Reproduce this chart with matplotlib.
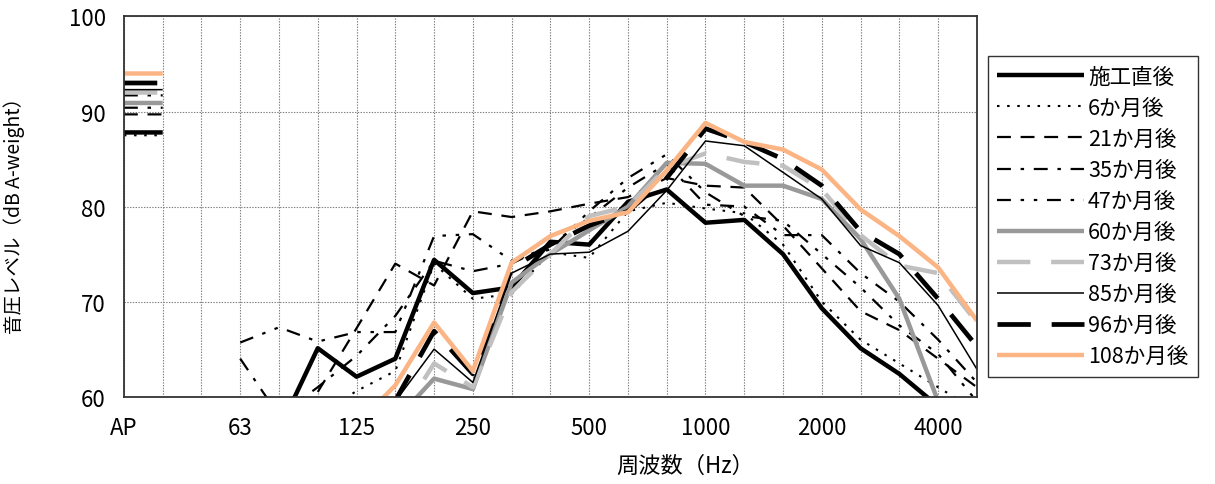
import numpy as np
import matplotlib
matplotlib.use("Agg")
import matplotlib.pyplot as plt

plt.rcParams['font.family'] = ['Noto Sans CJK JP', 'DejaVu Sans']
plt.rcParams['lines.scale_dashes'] = False

# categories (AP occupies two slots, then an empty slot)
categories = ['AP', '', '', '63', '80', '100', '125', '160', '200', '250', '315',
              '400', '500', '630', '800', '1000', '1250', '1600', '2000', '2500',
              '3150', '4000', '5000']
tick_labels = ['AP', '63', '125', '250', '500', '1000', '2000', '4000']

series_names = ['施工直後', '6か月後', '21か月後', '35か月後', '47か月後',
                '60か月後', '73か月後', '85か月後', '96か月後', '108か月後']

nan = np.nan
# AP values
ap_values = [87.8, 87.5, 89.7, 91.7, 90.4, 90.9, 92.0, 92.3, 93.0, 94.0]

# band values 63 Hz ... 5000 Hz
s00 = [55.0, 56.5, 65.1, 62.1, 64.0, 74.4, 70.9, 71.5, 76.3, 76.0, 80.5, 81.8, 78.3, 78.6, 75.0, 69.3, 65.1, 62.4, 59.0, 57.0]
s06 = [nan, 57.0, 58.0, 60.6, 62.7, 74.0, 70.3, 70.8, 75.2, 74.6, 79.5, 80.4, 79.8, 79.3, 76.0, 70.0, 66.0, 63.5, 61.0, 58.5]
s21 = [nan, nan, 60.5, 67.2, 74.0, 71.7, 79.5, 78.9, 79.5, 80.3, 81.0, 83.0, 82.2, 82.0, 78.0, 73.5, 69.0, 67.0, 64.0, 61.0]
s35 = [64.0, 58.0, 61.0, 64.3, 68.5, 74.3, 73.2, 74.0, 76.0, 78.8, 82.0, 84.5, 80.2, 80.0, 77.0, 77.0, 73.0, 70.0, 66.0, 61.5]
s47 = [65.7, 67.3, 65.8, 66.8, 66.8, 76.9, 77.1, 74.3, 75.5, 79.5, 83.0, 85.5, 81.5, 79.0, 78.5, 75.0, 71.5, 67.5, 64.5, 59.5]
s60 = [nan, nan, nan, 55.0, 57.5, 61.9, 60.8, 72.0, 75.0, 77.5, 80.0, 84.6, 84.5, 82.2, 82.2, 80.8, 76.6, 70.3, 59.5, 55.0]
s73 = [nan, nan, nan, nan, 57.0, 63.5, 61.0, 71.0, 75.0, 79.0, 80.0, 84.1, 85.6, 84.7, 84.3, 81.8, 77.0, 73.8, 73.0, 67.8]
s85 = [nan, nan, nan, 55.0, 59.5, 65.0, 61.5, 73.0, 75.0, 75.2, 77.4, 81.7, 86.9, 86.4, 83.6, 80.8, 75.9, 74.1, 69.6, 62.9]
s96 = [nan, nan, nan, 55.0, 59.6, 66.9, 62.4, 73.5, 76.0, 78.0, 79.5, 83.0, 88.2, 86.8, 85.0, 82.2, 77.4, 75.0, 70.3, 65.3]
s108 = [nan, nan, nan, 57.0, 61.2, 67.8, 62.7, 74.1, 76.9, 78.5, 79.4, 83.8, 88.8, 86.8, 86.0, 83.9, 79.7, 76.9, 73.6, 68.0]

band_data = [s00, s06, s21, s35, s47, s60, s73, s85, s96, s108]

styles = [
    dict(color='black', lw=3.2, ls='-'),
    dict(color='black', lw=1.5, ls=(0, (1.8, 5.5))),
    dict(color='black', lw=1.6, ls=(0, (10, 7))),
    dict(color='black', lw=1.6, ls=(0, (10, 7, 2.5, 7))),
    dict(color='black', lw=1.6, ls=(0, (10, 7, 2.5, 7, 2.5, 7))),
    dict(color='#999999', lw=3.2, ls='-'),
    dict(color='#c0c0c0', lw=3.2, ls=(0, (24, 15))),
    dict(color='black', lw=1.1, ls='-'),
    dict(color='black', lw=3.4, ls=(0, (24, 15))),
    dict(color='#fbb484', lw=3.2, ls='-'),
]

fig = plt.figure(figsize=(12.15, 4.85), dpi=100)
ax = fig.add_axes([0.102, 0.180, 0.702, 0.784])

x = np.arange(len(categories))
for name, ap, band, st in zip(series_names, ap_values, band_data, styles):
    y = np.array([ap, ap, nan] + list(band), dtype=float)
    ax.plot(x, y, label=name, solid_capstyle='butt', dash_capstyle='butt',
            **st)

ax.set_xlim(0, len(categories) - 1)
ax.set_ylim(60, 100)
ax.set_xticks(x)
ax.set_xticklabels([c if c in tick_labels else '' for c in categories])
ax.set_yticks([60, 70, 80, 90, 100])
ax.tick_params(axis='both', length=0, labelsize=16)
ax.tick_params(axis='x', pad=14)
ax.tick_params(axis='y', pad=13)
ax.grid(True, color='#808080', lw=0.8, ls=(0, (1, 1)))
ax.set_axisbelow(True)
for sp in ax.spines.values():
    sp.set_color('#333333')
    sp.set_linewidth(1.3)

ax.set_xlabel('周波数（Hz）', fontsize=16)
ax.xaxis.set_label_coords(0.658, -0.15)
ax.set_ylabel('音圧レベル（dB A-weight）', fontsize=14)
ax.yaxis.set_label_coords(-0.116, 0.49)

leg = fig.legend(loc='upper left', bbox_to_anchor=(0.813, 0.882),
                 fontsize=15.5, frameon=True, fancybox=False,
                 edgecolor='black', handlelength=4.0, handletextpad=0.2,
                 labelspacing=0.42, borderpad=0.45, borderaxespad=0)
leg.get_frame().set_linewidth(1.0)

fig.savefig('out.png', dpi=100)
